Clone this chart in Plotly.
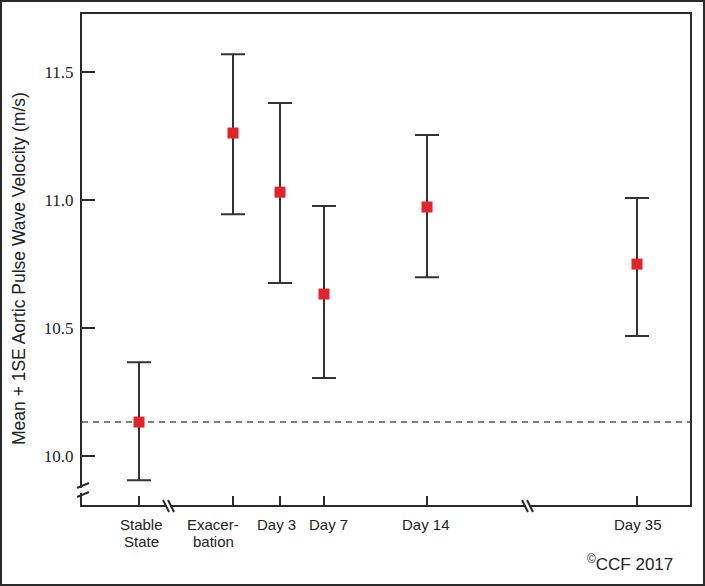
import plotly.graph_objects as go

# ---- data ----
categories = ["Stable<br>State", "Exacer-<br>bation", "Day 3", "Day 7", "Day 14", "Day 35"]
x_slot = [1.14, 3.02, 3.96, 4.84, 6.90, 11.10]          # category positions on the broken axis
means = [10.133, 11.262, 11.031, 10.633, 10.973, 10.750]
upper = [10.367, 11.570, 11.379, 10.977, 11.254, 11.008]
lower = [9.906, 10.945, 10.676, 10.305, 10.699, 10.469]
baseline = 10.133
y_ticks = [10.0, 10.5, 11.0, 11.5]
y_ticktext = ["10.0", "10.5", "11.0", "11.5"]

# ---- layout geometry (pixels) ----
WIDTH, HEIGHT = 705, 586
L, R, T, B = 82, 690, 14, 505
PW, PH = R - L, B - T
label_shift = [2, -20, -4, 4, -1, 1]   # horizontal nudge of each x label (px)

def px(xp):
    return (xp - L) / PW

def py(yp):
    return (B - yp) / PH

err_plus = [u - m for u, m in zip(upper, means)]
err_minus = [m - l for m, l in zip(means, lower)]

fig = go.Figure()
fig.add_trace(go.Scatter(
    x=x_slot, y=means, mode="markers",
    marker=dict(symbol="square", size=11, color="#e3232b", line=dict(width=0)),
    error_y=dict(type="data", symmetric=False, array=err_plus, arrayminus=err_minus,
                 color="#333333", thickness=2, width=12),
    showlegend=False, hoverinfo="skip",
))

shapes = []
# dashed baseline
shapes.append(dict(type="line", xref="paper", yref="y", x0=0, x1=1, y0=baseline, y1=baseline,
                   line=dict(color="#555555", width=1.5, dash="6px,5px"), layer="below"))

ink = "#2a2a2a"
txt = "#222222"
sans = "Liberation Sans, Arial, sans-serif"
# y-axis break
shapes.append(dict(type="rect", xref="paper", yref="paper", x0=px(80), x1=px(86), y0=py(493), y1=py(488),
                   fillcolor="white", line=dict(width=0)))
for y0 in (488, 497):
    shapes.append(dict(type="line", xref="paper", yref="paper", x0=px(77), x1=px(89),
                       y0=py(y0), y1=py(y0 - 5), line=dict(color=ink, width=2)))
# x-axis breaks
for xb in (163, 522):
    shapes.append(dict(type="rect", xref="paper", yref="paper", x0=px(xb + 4), x1=px(xb + 7),
                       y0=py(507), y1=py(503), fillcolor="white", line=dict(width=0)))
    for dx in (0, 5):
        shapes.append(dict(type="line", xref="paper", yref="paper", x0=px(xb + dx), x1=px(xb + dx + 6),
                           y0=py(500), y1=py(512), line=dict(color=ink, width=2)))
# outer image border
shapes.append(dict(type="rect", xref="paper", yref="paper", x0=px(1), x1=px(704), y0=py(585), y1=py(1),
                   line=dict(color=ink, width=2), fillcolor="rgba(0,0,0,0)"))

annotations = []
# x category labels (one annotation per text line, tighter line spacing)
for xv, lab, sh in zip(x_slot, categories, label_shift):
    for i, line in enumerate(lab.split("<br>")):
        annotations.append(dict(text=line, xref="x", yref="paper", x=xv, y=py(524 + 17.5 * i),
                                xshift=sh, showarrow=False, xanchor="center", yanchor="middle",
                                font=dict(family=sans, size=15, color=txt)))
# y-axis title
annotations.append(dict(text="Mean + 1SE Aortic Pulse Wave Velocity (m/s)", textangle=-90,
                        xref="paper", yref="paper", x=px(19), y=py(269), showarrow=False,
                        xanchor="center", yanchor="middle", font=dict(family=sans, size=17.5, color=txt)))
# copyright
annotations.append(dict(text="<sup>©</sup>CCF 2017", xref="paper", yref="paper", x=px(630), y=py(563),
                        showarrow=False, xanchor="center", yanchor="middle",
                        font=dict(family=sans, size=17, color=txt)))

fig.update_layout(
    width=WIDTH, height=HEIGHT,
    margin=dict(l=L, r=WIDTH - R, t=T, b=HEIGHT - B, autoexpand=False),
    paper_bgcolor="white", plot_bgcolor="white",
    shapes=shapes, annotations=annotations,
    xaxis=dict(range=[0, PW / 50], tickvals=x_slot, showticklabels=False,
               showgrid=False, zeroline=False, showline=True, mirror=True,
               linecolor=ink, linewidth=2, ticks="inside", ticklen=9, tickwidth=1.5, tickcolor=ink),
    yaxis=dict(range=[9.809, 9.809 + PH / 256], tickvals=y_ticks, ticktext=y_ticktext,
               showgrid=False, zeroline=False, showline=True, mirror=True,
               linecolor=ink, linewidth=2, ticks="inside", ticklen=13, tickwidth=1.5, tickcolor=ink,
               ticklabelstandoff=3,
               tickfont=dict(family="Liberation Serif, Times New Roman, serif", size=17, color=txt)),
)

fig.write_html("out.html", config={"displayModeBar": False},
               post_script="document.body.style.margin='0';document.body.style.overflow='hidden';")
